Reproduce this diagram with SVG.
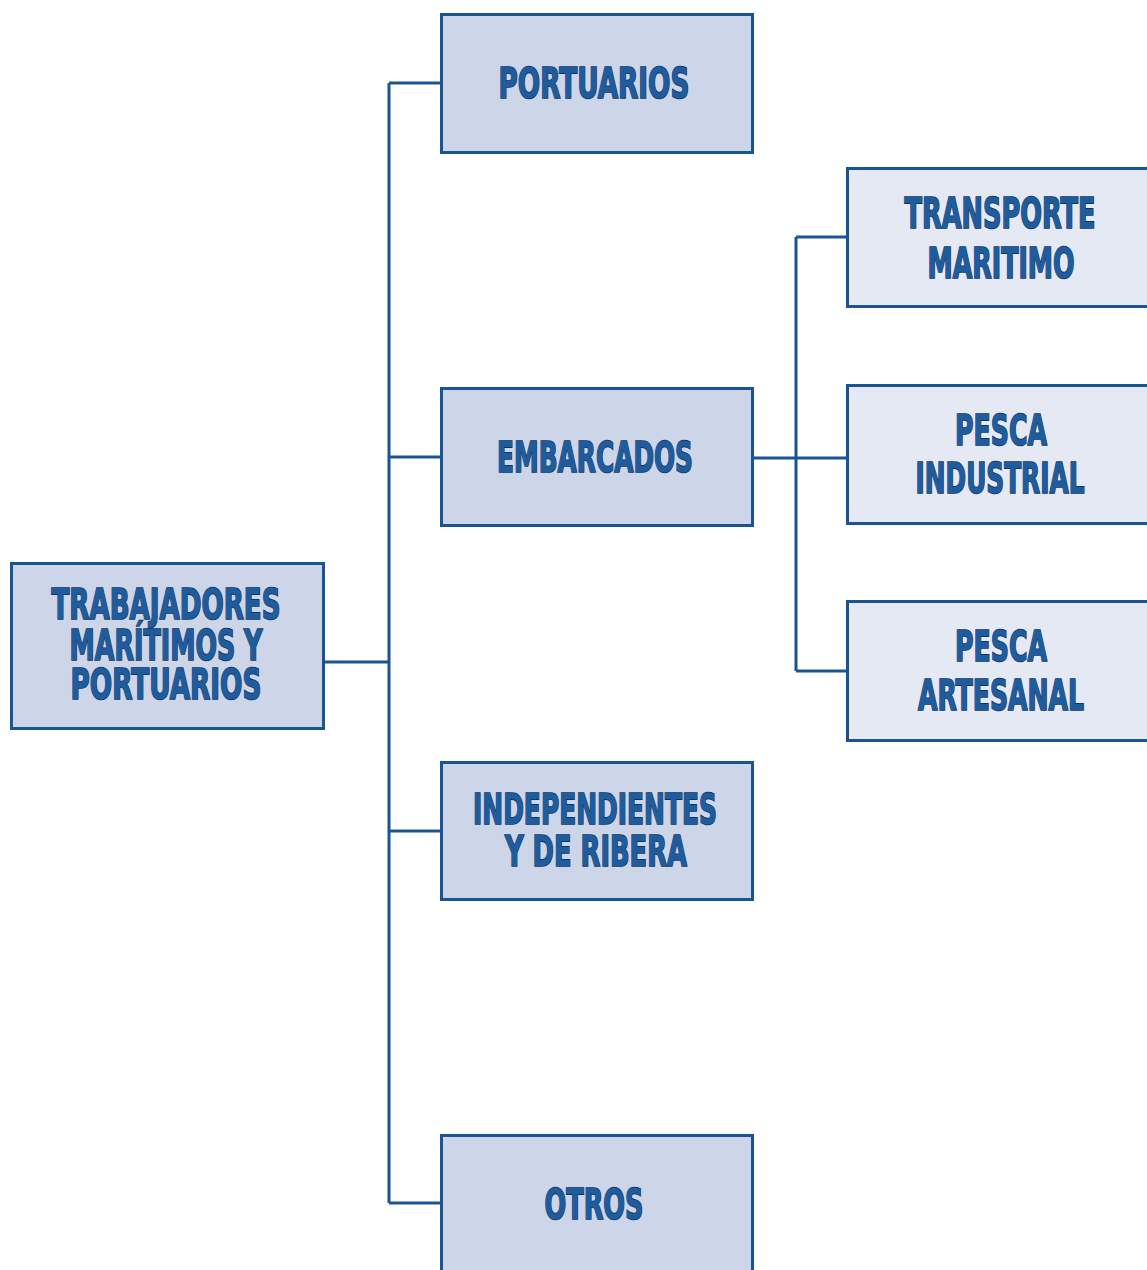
<svg xmlns="http://www.w3.org/2000/svg" width="1147" height="1270" viewBox="0 0 1147 1270">
<style>
.box{fill:#cdd5e8;stroke:#1a5492;stroke-width:3}
.sub{fill:#e5e9f4;stroke:#1a5492;stroke-width:3}
.t{font-family:"Liberation Sans Narrow","DejaVu Sans Condensed","Liberation Sans",sans-serif;font-weight:bold;font-size:43px;fill:#1f5c9e;stroke:#0f335f;stroke-width:1.6px;paint-order:stroke;text-anchor:middle}
.c{fill:none;stroke:#1a5492;stroke-width:3}
</style>
<rect width="1147" height="1270" fill="#ffffff"/>
<g id="connectors">
<path class="c" d="M324 662 H389 M389 83 V1203 M389 83 H441 M389 457 H441 M389 831 H441 M389 1203 H441"/>
<path class="c" d="M753 458 H847 M796 237 V671 M796 237 H847 M796 671 H847"/>
</g>
<g id="root">
<rect class="box" x="11.5" y="563.5" width="312" height="165"/>
<text class="t" x="166" y="619" textLength="229" lengthAdjust="spacingAndGlyphs">TRABAJADORES</text>
<text class="t" x="166" y="660" textLength="193" lengthAdjust="spacingAndGlyphs">MARÍTIMOS Y</text>
<text class="t" x="166" y="699" textLength="191" lengthAdjust="spacingAndGlyphs">PORTUARIOS</text>
</g>
<g id="portuarios">
<rect class="box" x="441.5" y="14.5" width="311" height="138"/>
<text class="t" x="594" y="98" textLength="191" lengthAdjust="spacingAndGlyphs">PORTUARIOS</text>
</g>
<g id="embarcados">
<rect class="box" x="441.5" y="388.5" width="311" height="137"/>
<text class="t" x="595" y="472" textLength="196" lengthAdjust="spacingAndGlyphs">EMBARCADOS</text>
</g>
<g id="independientes">
<rect class="box" x="441.5" y="762.5" width="311" height="137"/>
<text class="t" x="595" y="824" textLength="244" lengthAdjust="spacingAndGlyphs">INDEPENDIENTES</text>
<text class="t" x="596" y="866" textLength="182" lengthAdjust="spacingAndGlyphs">Y DE RIBERA</text>
</g>
<g id="otros">
<rect class="box" x="441.5" y="1135.5" width="311" height="150"/>
<text class="t" x="594" y="1219" textLength="99" lengthAdjust="spacingAndGlyphs">OTROS</text>
</g>
<g id="transporte">
<rect class="sub" x="847.5" y="168.5" width="310" height="138"/>
<text class="t" x="1000" y="228" textLength="191" lengthAdjust="spacingAndGlyphs">TRANSPORTE</text>
<text class="t" x="1001" y="278" textLength="147" lengthAdjust="spacingAndGlyphs">MARITIMO</text>
</g>
<g id="pesca-industrial">
<rect class="sub" x="847.5" y="385.5" width="310" height="138"/>
<text class="t" x="1001" y="445" textLength="92" lengthAdjust="spacingAndGlyphs">PESCA</text>
<text class="t" x="1000" y="493" textLength="169" lengthAdjust="spacingAndGlyphs">INDUSTRIAL</text>
</g>
<g id="pesca-artesanal">
<rect class="sub" x="847.5" y="601.5" width="310" height="139"/>
<text class="t" x="1001" y="661" textLength="92" lengthAdjust="spacingAndGlyphs">PESCA</text>
<text class="t" x="1001" y="710" textLength="166" lengthAdjust="spacingAndGlyphs">ARTESANAL</text>
</g>
</svg>
